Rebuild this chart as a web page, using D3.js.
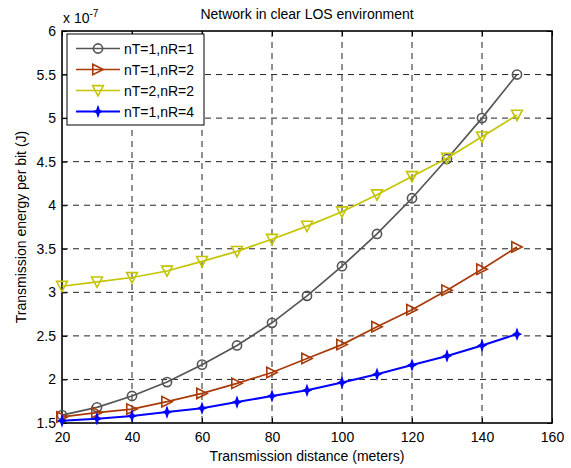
<!DOCTYPE html>
<html>
<head>
<meta charset="utf-8">
<script src="https://cdn.jsdelivr.net/npm/d3@7/dist/d3.min.js"></script>
<style>
  body { margin: 0; background: #fff; }
  svg { display: block; font-family: "Liberation Sans", Arial, sans-serif; }
</style>
</head>
<body>
<svg id="chart" width="571" height="468"></svg>
<script>
// Transmission distance (meters)
const distances = [20, 30, 40, 50, 60, 70, 80, 90, 100, 110, 120, 130, 140, 150];

// Transmission energy per bit, in units of 1e-7 J
const energyT1R1 = [1.59, 1.68, 1.81, 1.97, 2.17, 2.39, 2.65, 2.96, 3.30, 3.67, 4.08, 4.53, 5.00, 5.50];
const energyT1R2 = [1.57, 1.62, 1.66, 1.745, 1.84, 1.955, 2.08, 2.24, 2.40, 2.605, 2.80, 3.025, 3.265, 3.52];
const energyT2R2 = [3.07, 3.12, 3.17, 3.245, 3.355, 3.47, 3.61, 3.76, 3.925, 4.12, 4.33, 4.54, 4.785, 5.035];
const energyT1R4 = [1.525, 1.55, 1.58, 1.625, 1.67, 1.74, 1.81, 1.875, 1.965, 2.06, 2.165, 2.27, 2.39, 2.52];

const seriesNames = ["nT=1,nR=1", "nT=1,nR=2", "nT=2,nR=2", "nT=1,nR=4"];
const xTicks = [20, 40, 60, 80, 100, 120, 140, 160];
const yTicks = [1.5, 2, 2.5, 3, 3.5, 4, 4.5, 5, 5.5, 6];

const series = [
  { name: seriesNames[0], values: energyT1R1, color: "#555555", marker: "circle" },
  { name: seriesNames[1], values: energyT1R2, color: "#a83a08", marker: "triRight" },
  { name: seriesNames[2], values: energyT2R2, color: "#c4c400", marker: "triDown" },
  { name: seriesNames[3], values: energyT1R4, color: "#0000ff", marker: "star" }
];

const FS = 14;
const svg = d3.select("#chart");
const L = 62, R = 552, T = 31, B = 423;

const x = d3.scaleLinear().domain([20, 160]).range([L, R]);
const y = d3.scaleLinear().domain([1.5, 6]).range([B, T]);

// grid
const grid = svg.append("g");
xTicks.slice(1, -1).forEach(t => {
  grid.append("line").attr("x1", x(t)).attr("x2", x(t)).attr("y1", T).attr("y2", B)
    .attr("stroke", "#222").attr("stroke-width", 1).attr("stroke-dasharray", "6,5");
});
yTicks.slice(1, -1).forEach(t => {
  grid.append("line").attr("x1", L).attr("x2", R).attr("y1", y(t)).attr("y2", y(t))
    .attr("stroke", "#222").attr("stroke-width", 1).attr("stroke-dasharray", "6,5");
});

// axes with inward ticks
svg.append("g").attr("transform", `translate(0,${B})`)
  .call(d3.axisBottom(x).tickValues(xTicks).tickSizeInner(-5).tickSizeOuter(0).tickPadding(9));
svg.append("g").attr("transform", `translate(${L},0)`)
  .call(d3.axisLeft(y).tickValues(yTicks).tickSizeInner(-5).tickSizeOuter(0).tickPadding(6)
    .tickFormat(d3.format("")));
svg.append("g").attr("transform", `translate(0,${T})`)
  .call(d3.axisTop(x).tickValues(xTicks).tickSizeInner(-5).tickSizeOuter(0).tickFormat(""));
svg.append("g").attr("transform", `translate(${R},0)`)
  .call(d3.axisRight(y).tickValues(yTicks).tickSizeInner(-5).tickSizeOuter(0).tickFormat(""));

svg.selectAll(".domain").remove();
svg.selectAll(".tick line").attr("stroke", "#000");
svg.selectAll(".tick text").attr("font-size", FS).attr("fill", "#000")
  .attr("font-family", "Liberation Sans, Arial, sans-serif");

// box
svg.append("rect").attr("x", L).attr("y", T).attr("width", R - L).attr("height", B - T)
  .attr("fill", "none").attr("stroke", "#000").attr("stroke-width", 1.6);

// marker drawing
function drawMarker(g, type, cx, cy, color) {
  if (type === "circle") {
    g.append("circle").attr("cx", cx).attr("cy", cy).attr("r", 4.6)
      .attr("fill", "none").attr("stroke", color).attr("stroke-width", 1.6);
  } else if (type === "triRight") {
    const s = 5.2;
    g.append("path").attr("d", `M${cx - s},${cy - s}L${cx + s},${cy}L${cx - s},${cy + s}Z`)
      .attr("fill", "none").attr("stroke", color).attr("stroke-width", 1.6);
  } else if (type === "triDown") {
    const s = 5.4;
    g.append("path").attr("d", `M${cx - s},${cy - s * 0.9}L${cx + s},${cy - s * 0.9}L${cx},${cy + s}Z`)
      .attr("fill", "none").attr("stroke", color).attr("stroke-width", 1.6);
  } else {
    g.append("path").attr("d", `M${cx},${cy - 5}L${cx + 1.3},${cy - 1.3}L${cx + 3.8},${cy}L${cx + 1.3},${cy + 1.3}L${cx},${cy + 5}L${cx - 1.3},${cy + 1.3}L${cx - 3.8},${cy}L${cx - 1.3},${cy - 1.3}Z`)
      .attr("fill", color).attr("stroke", color).attr("stroke-width", 1.2);
  }
}

const line = d3.line().x((d, i) => x(distances[i])).y(d => y(d));
const plot = svg.append("g");
series.forEach(s => {
  plot.append("path").datum(s.values).attr("d", line)
    .attr("fill", "none").attr("stroke", s.color)
    .attr("stroke-width", s.marker === "star" ? 2 : 1.7);
  const mg = plot.append("g");
  s.values.forEach((v, i) => drawMarker(mg, s.marker, x(distances[i]), y(v), s.color));
});

// legend
const lg = svg.append("g");
lg.append("rect").attr("x", 67).attr("y", 34).attr("width", 137).attr("height", 91)
  .attr("fill", "#fff").attr("stroke", "#000").attr("stroke-width", 1);
series.forEach((s, i) => {
  const ly = 48.5 + i * 21;
  lg.append("line").attr("x1", 76).attr("x2", 120).attr("y1", ly).attr("y2", ly)
    .attr("stroke", s.color).attr("stroke-width", s.marker === "star" ? 2 : 1.7);
  drawMarker(lg, s.marker, 98, ly, s.color);
  lg.append("text").attr("x", 124).attr("y", ly + 5).attr("font-size", FS)
    .attr("fill", "#000").text(s.name);
});

// titles
svg.append("text").attr("x", 307).attr("y", 19).attr("text-anchor", "middle")
  .attr("font-size", FS).attr("fill", "#000").text("Network in clear LOS environment");
svg.append("text").attr("x", 307).attr("y", 461).attr("text-anchor", "middle")
  .attr("font-size", FS).attr("fill", "#000").text("Transmission distance (meters)");
svg.append("text").attr("transform", `translate(26,${(T + B) / 2}) rotate(-90)`)
  .attr("text-anchor", "middle").attr("font-size", FS).attr("fill", "#000")
  .text("Transmission energy per bit (J)");

// exponent label
const ex = svg.append("text").attr("x", 63).attr("y", 23).attr("font-size", FS).attr("fill", "#000");
ex.append("tspan").text("x 10");
ex.append("tspan").attr("dy", -6).attr("font-size", 10).text("-7");
</script>
</body>
</html>
